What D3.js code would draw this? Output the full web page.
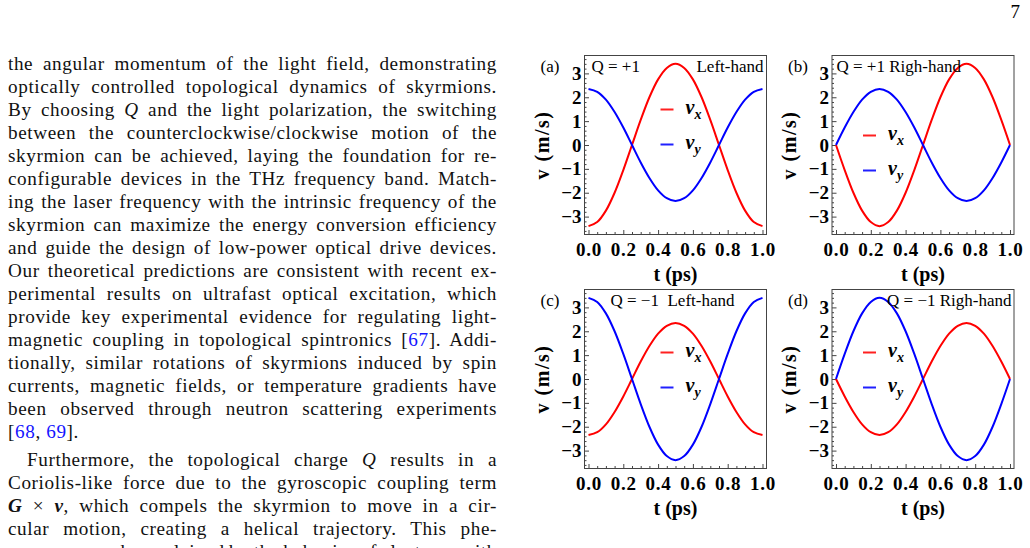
<!DOCTYPE html>
<html>
<head>
<meta charset="utf-8">
<script src="https://cdn.jsdelivr.net/npm/d3@7"></script>
<style>
  body { margin: 0; background: #fff; }
  svg { display: block; }
</style>
</head>
<body>
<div id="page"></div>
<script>
// ---- data ----
var tVals = [0, 0.05, 0.1, 0.15, 0.2, 0.25, 0.3, 0.35, 0.4, 0.45, 0.5,
             0.55, 0.6, 0.65, 0.7, 0.75, 0.8, 0.85, 0.9, 0.95, 1];

// (a) Q = +1, left-hand
var vxA = [-3.40, -3.23, -2.75, -2.00, -1.05, 0, 1.05, 2.00, 2.75, 3.23, 3.40,
            3.23, 2.75, 2.00, 1.05, 0, -1.05, -2.00, -2.75, -3.23, -3.40];
var vyA = [2.35, 2.23, 1.90, 1.38, 0.73, 0, -0.73, -1.38, -1.90, -2.23, -2.35,
          -2.23, -1.90, -1.38, -0.73, 0, 0.73, 1.38, 1.90, 2.23, 2.35];
// (b) Q = +1, right-hand
var vxB = [0, -1.05, -2.00, -2.75, -3.23, -3.40, -3.23, -2.75, -2.00, -1.05, 0,
           1.05, 2.00, 2.75, 3.23, 3.40, 3.23, 2.75, 2.00, 1.05, 0];
var vyB = [0, 0.73, 1.38, 1.90, 2.23, 2.35, 2.23, 1.90, 1.38, 0.73, 0,
          -0.73, -1.38, -1.90, -2.23, -2.35, -2.23, -1.90, -1.38, -0.73, 0];
// (c) Q = -1, left-hand
var vxC = [-2.35, -2.23, -1.90, -1.38, -0.73, 0, 0.73, 1.38, 1.90, 2.23, 2.35,
            2.23, 1.90, 1.38, 0.73, 0, -0.73, -1.38, -1.90, -2.23, -2.35];
var vyC = [3.40, 3.23, 2.75, 2.00, 1.05, 0, -1.05, -2.00, -2.75, -3.23, -3.40,
          -3.23, -2.75, -2.00, -1.05, 0, 1.05, 2.00, 2.75, 3.23, 3.40];
// (d) Q = -1, right-hand
var vxD = [0, -0.73, -1.38, -1.90, -2.23, -2.35, -2.23, -1.90, -1.38, -0.73, 0,
           0.73, 1.38, 1.90, 2.23, 2.35, 2.23, 1.90, 1.38, 0.73, 0];
var vyD = [0, 1.05, 2.00, 2.75, 3.23, 3.40, 3.23, 2.75, 2.00, 1.05, 0,
          -1.05, -2.00, -2.75, -3.23, -3.40, -3.23, -2.75, -2.00, -1.05, 0];

var xTicks = [0, 0.2, 0.4, 0.6, 0.8, 1.0];
var yTicks = [-3, -2, -1, 0, 1, 2, 3];

var panelLabels = ["(a)", "(b)", "(c)", "(d)"];
var chargeLabels = ["Q = +1", "Q = +1 Righ-hand", "Q = \u22121  Left-hand", "Q = \u22121 Righ-hand"];

// body text of the page, one entry per printed line
var bodyLines = [
  "the angular momentum of the light field, demonstrating",
  "optically controlled topological dynamics of skyrmions.",
  "By choosing {i:Q} and the light polarization, the switching",
  "between the counterclockwise/clockwise motion of the",
  "skyrmion can be achieved, laying the foundation for re-",
  "configurable devices in the THz frequency band. Match-",
  "ing the laser frequency with the intrinsic frequency of the",
  "skyrmion can maximize the energy conversion efficiency",
  "and guide the design of low-power optical drive devices.",
  "Our theoretical predictions are consistent with recent ex-",
  "perimental results on ultrafast optical excitation, which",
  "provide key experimental evidence for regulating light-",
  "magnetic coupling in topological spintronics [{c:67}]. Addi-",
  "tionally, similar rotations of skyrmions induced by spin",
  "currents, magnetic fields, or temperature gradients have",
  "been observed through neutron scattering experiments",
  "[{c:68}, {c:69}].",
  "Furthermore, the topological charge {i:Q} results in a",
  "Coriolis-like force due to the gyroscopic coupling term",
  "{b:G} \u00d7 {b:v}, which compels the skyrmion to move in a cir-",
  "cular motion, creating a helical trajectory. This phe-",
  "nomenon can be explained by the behavior of electrons with"
];

// ---- page ----
var svg = d3.select("#page").append("svg")
    .attr("width", 1030)
    .attr("height", 548);

var serif = "'Liberation Serif', 'Times New Roman', serif";

svg.append("text")
    .attr("x", 1020).attr("y", 18)
    .attr("text-anchor", "end")
    .attr("font-family", serif)
    .attr("font-size", 19)
    .text("7");

// left column, justified line by line
var colLeft = 8, colWidth = 489;
var body = svg.append("g")
    .attr("font-family", serif)
    .attr("font-size", 19.2)
    .attr("fill", "#111");

bodyLines.forEach(function(line, i) {
    var base = i < 17 ? 69.5 + i * 23.06 : 466 + (i - 17) * 23.06;
    var indent = i === 17 ? 19 : 0;
    var t = body.append("text")
        .attr("x", colLeft + indent)
        .attr("y", base)
        .style("letter-spacing", "0.6px");
    var parts = line.split(/(\{[icb]:[^}]*\})/);
    parts.forEach(function(p) {
        if (!p) return;
        var m = p.match(/^\{([icb]):([^}]*)\}$/);
        var ts = t.append("tspan").text(m ? m[2] : p);
        if (m && m[1] === "i") ts.attr("font-style", "italic");
        if (m && m[1] === "c") ts.attr("fill", "#1414ff");
        if (m && m[1] === "b") ts.attr("font-style", "italic").attr("font-weight", "bold");
    });
    if (i === 16) return;   // last line of paragraph stays ragged
    var spaces = line.split(" ").length - 1;
    var w = t.node().getComputedTextLength();
    var extra = (colWidth - indent - w) / spaces;
    t.style("word-spacing", extra + "px");
});

// ---- figure ----
var W = 182, H = 179;
var x = d3.scaleLinear().domain([-0.023, 1.023]).range([0, W]);
var y = d3.scaleLinear().domain([-3.75, 3.75]).range([H, 0]);

var xMinor = d3.range(0, 1.0001, 0.05).filter(function(d) { return Math.abs(d * 5 - Math.round(d * 5)) > 1e-6; });
var yMinor = d3.range(-3.6, 3.6001, 0.2).filter(function(d) { return Math.abs(d - Math.round(d)) > 1e-6; });

var panels = [
    {vx: vxA, vy: vyA, left: 584, top: 55,  leg: [76, 54],  hand: "Left-hand"},
    {vx: vxB, vy: vyB, left: 831.5, top: 55,  leg: [31, 80],  hand: null},
    {vx: vxC, vy: vyC, left: 584, top: 289, leg: [76, 63],  hand: null},
    {vx: vxD, vy: vyD, left: 831.5, top: 289, leg: [31, 63], hand: null}
];

var frameColor = "#444";

panels.forEach(function(p, k) {
    var g = svg.append("g")
        .attr("transform", "translate(" + (p.left + 0.5) + "," + (p.top + 0.5) + ")");

    // minor ticks
    g.append("g")
        .call(d3.axisLeft(y).tickValues(yMinor).tickSize(-2).tickFormat(""))
        .call(function(a) { a.select(".domain").remove(); a.selectAll("line").attr("stroke", frameColor); });
    g.append("g")
        .attr("transform", "translate(0," + H + ")")
        .call(d3.axisBottom(x).tickValues(xMinor).tickSize(-2.5).tickFormat(""))
        .call(function(a) { a.select(".domain").remove(); a.selectAll("line").attr("stroke", frameColor); });

    // major ticks + labels
    var yAx = g.append("g")
        .call(d3.axisLeft(y).tickValues(yTicks).tickSize(-4.5).tickPadding(3).tickFormat(d3.format("d")));
    var xAx = g.append("g")
        .attr("transform", "translate(0," + H + ")")
        .call(d3.axisBottom(x).tickValues(xTicks).tickSize(-4.5).tickPadding(8).tickFormat(d3.format(".1f")));
    [yAx, xAx].forEach(function(a) {
        a.attr("font-family", serif).attr("font-size", 19).attr("font-weight", "bold");
        a.select(".domain").remove();
        a.selectAll("line").attr("stroke", frameColor);
        a.selectAll("text").attr("fill", "#000");
    });
    xAx.selectAll("text").style("letter-spacing", "0.8px");

    g.append("rect")
        .attr("width", W).attr("height", H)
        .attr("fill", "none")
        .attr("stroke", frameColor)
        .attr("stroke-width", 1);

    // curves
    var line = function(vals) {
        return d3.line()
            .x(function(d, i) { return x(tVals[i]); })
            .y(function(d) { return y(d); })
            .curve(d3.curveCatmullRom.alpha(0.5))(vals);
    };
    g.append("path").attr("d", line(p.vx))
        .attr("fill", "none").attr("stroke", "#ff0000").attr("stroke-width", 2);
    g.append("path").attr("d", line(p.vy))
        .attr("fill", "none").attr("stroke", "#0000ff").attr("stroke-width", 2);

    // legend
    [["x", "#ff2020", 0], ["y", "#2020ff", 35]].forEach(function(l) {
        var ly = p.leg[1] + l[2];
        g.append("line")
            .attr("x1", p.leg[0]).attr("x2", p.leg[0] + 13)
            .attr("y1", ly).attr("y2", ly)
            .attr("stroke", l[1]).attr("stroke-width", 2);
        var t = g.append("text")
            .attr("x", p.leg[0] + 25).attr("y", ly + 4)
            .attr("font-family", serif)
            .attr("font-style", "italic")
            .attr("font-weight", "bold")
            .attr("font-size", 20);
        t.append("tspan").text("v");
        t.append("tspan").attr("dy", 5).attr("font-size", 14).text(l[0]);
    });

    // axis titles
    g.append("text")
        .attr("x", W / 2).attr("y", H + 46)
        .attr("text-anchor", "middle")
        .attr("font-family", serif).attr("font-weight", "bold").attr("font-size", 20)
        .text("t (ps)");
    g.append("text")
        .attr("transform", "translate(-36," + (H / 2) + ") rotate(-90)")
        .attr("text-anchor", "middle")
        .attr("font-family", serif).attr("font-weight", "bold").attr("font-size", 20)
        .style("letter-spacing", "1.5px")
        .text("v (m/s)");

    // panel tag and title
    g.append("text")
        .attr("x", -44).attr("y", 16)
        .attr("font-family", serif).attr("font-size", 17)
        .text(panelLabels[k]);
    var title = g.append("text")
        .attr("font-family", serif).attr("font-size", 17)
        .attr("y", 16)
        .style("white-space", "pre")
        .text(chargeLabels[k]);
    if (k === 0) title.attr("x", 7);
    if (k === 1) title.attr("x", 4.5);
    if (k === 2) title.attr("x", 26);
    if (k === 3) title.attr("x", W - 2.5).attr("text-anchor", "end");
    if (p.hand) {
        g.append("text")
            .attr("x", W - 3).attr("y", 16)
            .attr("text-anchor", "end")
            .attr("font-family", serif).attr("font-size", 17)
            .text(p.hand);
    }
});
</script>
</body>
</html>
